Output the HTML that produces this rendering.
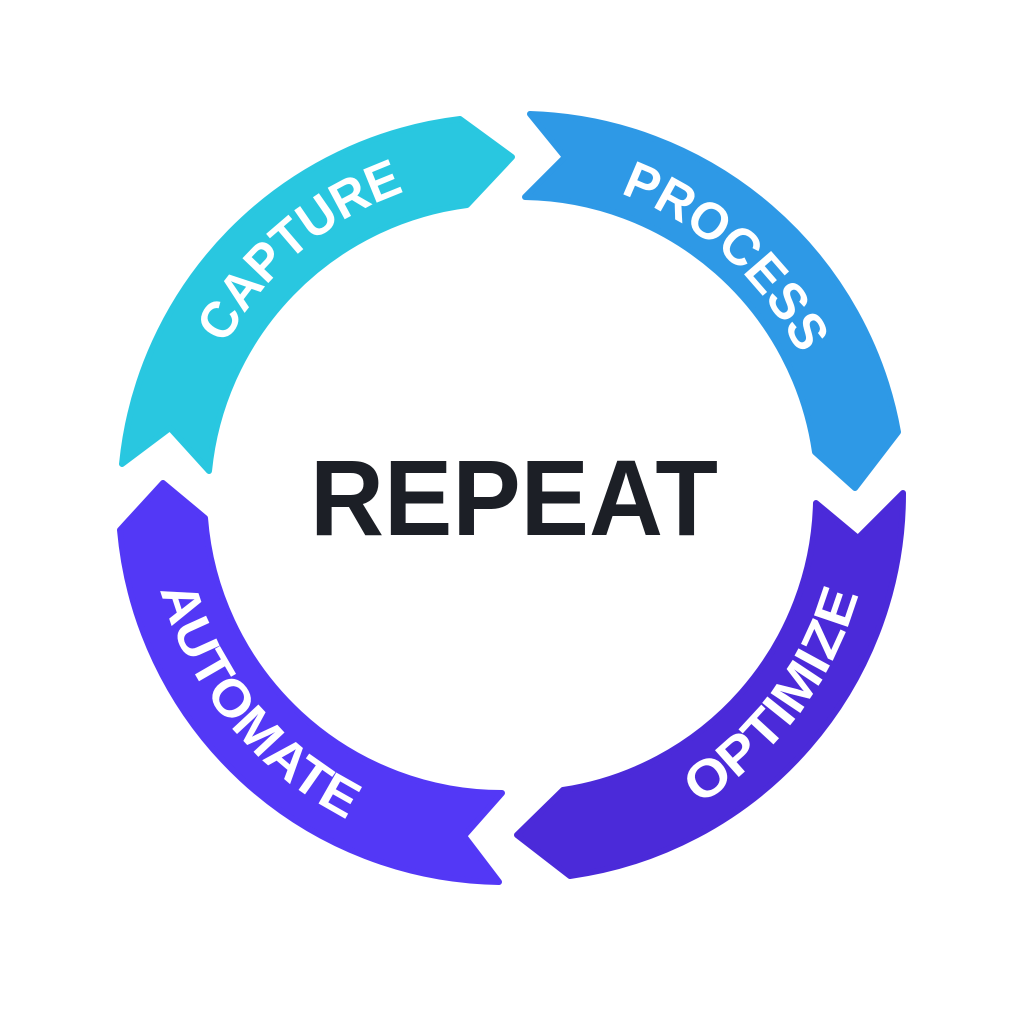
<!DOCTYPE html>
<html><head><meta charset="utf-8"><style>html,body{margin:0;padding:0;background:#fff}svg{display:block}</style></head>
<body>
<svg width="1024" height="1024" viewBox="0 0 1024 1024" xmlns="http://www.w3.org/2000/svg">
<rect width="1024" height="1024" fill="#fff"/>
<g stroke-linejoin="round" stroke-width="6">
<path fill="#29c7e0" stroke="#29c7e0" d="M122,464 A386,386 0 0 1 460,119 L512,157 L467,205 A298,298 0 0 0 209,471 L170,428 Z"/>
<path fill="#2e99e6" stroke="#2e99e6" d="M530,114 A386,386 0 0 1 898,432 L855,488 L815,452 A298,298 0 0 0 525,197 L565,157 Z"/>
<path fill="#4b2ad9" stroke="#4b2ad9" d="M903,493 A386,386 0 0 1 570,876 L517,835 L563,790 A298,298 0 0 0 816,503 L858,538 Z"/>
<path fill="#5338f6" stroke="#5338f6" d="M499,882 A386,386 0 0 1 120,530 L163,483 L205,518 A298,298 0 0 0 502,793 L464,836 Z"/>
</g>
<defs>
<path id="p1" d="M225.7,345 A322,322 0 0 1 405.2,191.5"/>
<path id="p2" d="M620.1,193.4 A322,322 0 0 1 799.4,354.8"/>
<path id="p3" d="M699.1,804.6 A362,362 0 0 0 859.7,589.7"/>
<path id="p4" d="M160.3,589.7 A362,362 0 0 0 354.2,822.7"/>
</defs>
<g fill="#fff" font-family="Liberation Sans, sans-serif" font-weight="bold" font-size="52">
<text><textPath href="#p1" textLength="241" lengthAdjust="spacingAndGlyphs">CAPTURE</textPath></text>
<text><textPath href="#p2" textLength="247" lengthAdjust="spacingAndGlyphs">PROCESS</textPath></text>
<text><textPath href="#p3" textLength="270" lengthAdjust="spacingAndGlyphs">OPTIMIZE</textPath></text>
<text><textPath href="#p4" textLength="305" lengthAdjust="spacingAndGlyphs">AUTOMATE</textPath></text>
</g>
<text x="310" y="535" font-family="Liberation Sans, sans-serif" font-weight="bold" font-size="108" fill="#1c1f26" textLength="408" lengthAdjust="spacingAndGlyphs">REPEAT</text>
</svg>
</body></html>
